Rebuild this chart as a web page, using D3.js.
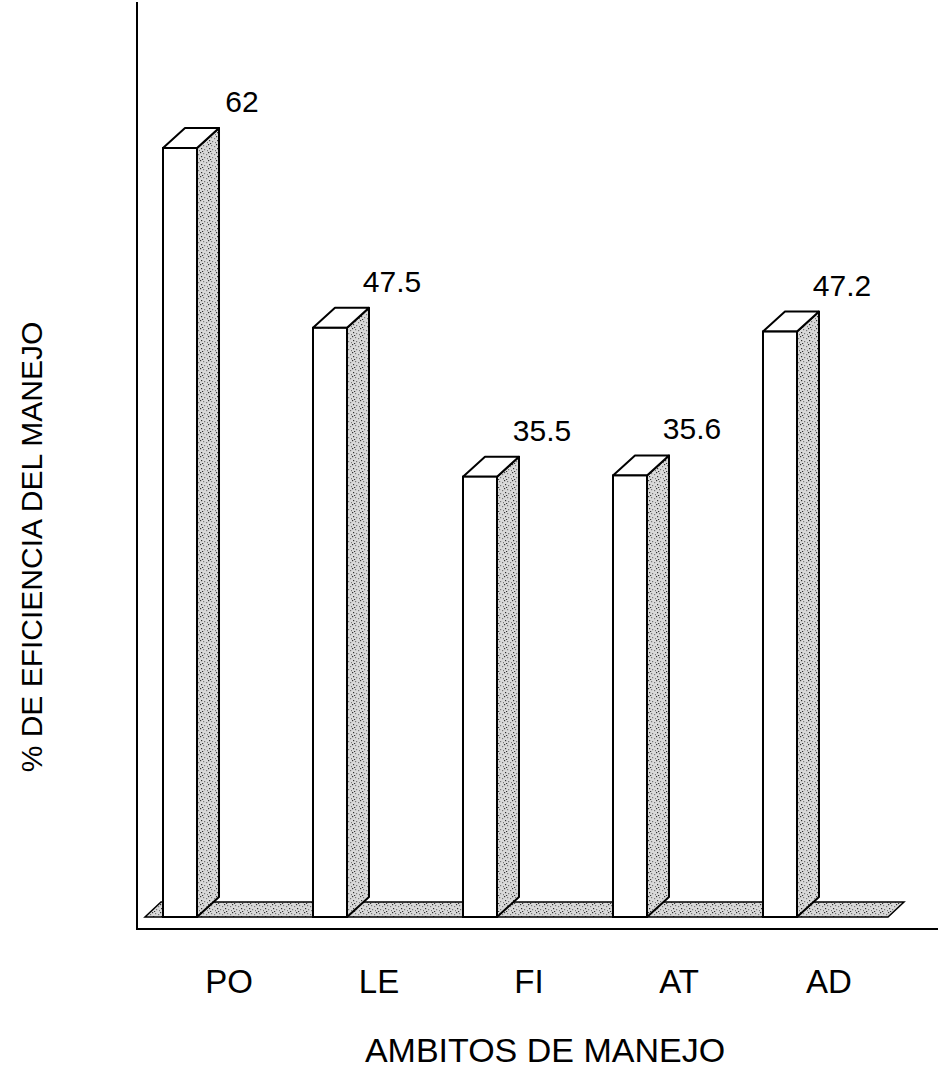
<!DOCTYPE html>
<html>
<head>
<meta charset="utf-8">
<script src="https://cdn.jsdelivr.net/npm/d3@7"></script>
<style>
  body { margin: 0; background: #fff; }
  text { font-family: "Liberation Sans", Arial, sans-serif; fill: #000; }
</style>
</head>
<body>
<svg width="938" height="1077"></svg>
<script>
var categories = ["PO", "LE", "FI", "AT", "AD"];
var values = [62, 47.5, 35.5, 35.6, 47.2];
var valueLabels = ["62", "47.5", "35.5", "35.6", "47.2"];

var svg = d3.select("svg");

// 3d offsets of the columns and the floor
var dx = 22, dy = 20;
var floorDx = 16, floorDy = 15;

var x = d3.scaleBand()
    .domain(categories)
    .range([163, 797])
    .paddingInner(0.7733)
    .paddingOuter(0);

var y = d3.scaleLinear()
    .domain([0, 62])
    .range([917, 148]);

// stipple texture for the shaded faces
var defs = svg.append("defs");
var pat = defs.append("pattern")
    .attr("id", "stipple")
    .attr("patternUnits", "userSpaceOnUse")
    .attr("width", 8)
    .attr("height", 8);
pat.append("rect").attr("width", 8).attr("height", 8).attr("fill", "#d9d9d9");
[[0, 0], [3, 1], [6, 2], [1, 4], [4, 5], [7, 6], [2, 7]].forEach(function(p, i) {
    pat.append("rect")
        .attr("x", p[0]).attr("y", p[1])
        .attr("width", 1.2).attr("height", 1.2)
        .attr("fill", i % 3 ? "#777" : "#333");
});

var base = y(0);

// floor
var floorLeft = 145, floorRight = 888;
svg.append("path")
    .attr("d", "M" + floorLeft + "," + base +
        "L" + floorRight + "," + base +
        "L" + (floorRight + floorDx) + "," + (base - floorDy) +
        "L" + (floorLeft + floorDx) + "," + (base - floorDy) + "Z")
    .attr("fill", "url(#stipple)")
    .attr("stroke", "#000")
    .attr("stroke-width", 1.5);

// axes lines
svg.append("line")
    .attr("x1", 137).attr("x2", 137)
    .attr("y1", 2).attr("y2", 930)
    .attr("stroke", "#000").attr("stroke-width", 2);

svg.append("line")
    .attr("x1", 137).attr("x2", 938)
    .attr("y1", 929).attr("y2", 929)
    .attr("stroke", "#000").attr("stroke-width", 2);

// columns
var bars = svg.selectAll(".bar")
    .data(categories)
    .enter().append("g")
    .attr("class", "bar");

bars.append("path")
    .attr("d", function(d, i) {
        var x0 = x(d) + x.bandwidth(), yt = y(values[i]);
        return "M" + x0 + "," + base + "L" + x0 + "," + yt +
            "L" + (x0 + dx) + "," + (yt - dy) +
            "L" + (x0 + dx) + "," + (base - dy) + "Z";
    })
    .attr("fill", "url(#stipple)")
    .attr("stroke", "#000")
    .attr("stroke-width", 2)
    .attr("stroke-linejoin", "round");

bars.append("path")
    .attr("d", function(d, i) {
        var x0 = x(d), x1 = x(d) + x.bandwidth(), yt = y(values[i]);
        return "M" + x0 + "," + yt + "L" + x1 + "," + yt +
            "L" + (x1 + dx) + "," + (yt - dy) +
            "L" + (x0 + dx) + "," + (yt - dy) + "Z";
    })
    .attr("fill", "#fff")
    .attr("stroke", "#000")
    .attr("stroke-width", 2)
    .attr("stroke-linejoin", "round");

bars.append("rect")
    .attr("x", function(d) { return x(d); })
    .attr("y", function(d, i) { return y(values[i]); })
    .attr("width", x.bandwidth())
    .attr("height", function(d, i) { return base - y(values[i]); })
    .attr("fill", "#fff")
    .attr("stroke", "#000")
    .attr("stroke-width", 2);

// value labels
bars.append("text")
    .attr("x", function(d) { return x(d) + x.bandwidth() / 2 + 62; })
    .attr("y", function(d, i) { return y(values[i]) - dy - 16; })
    .attr("text-anchor", "middle")
    .style("font-size", "30px")
    .text(function(d, i) { return valueLabels[i]; });

// category axis
var xTicks = d3.scaleBand()
    .domain(categories)
    .range([163 + 49, 797 + 49])
    .paddingInner(0.7733);

svg.append("g")
    .attr("transform", "translate(0,962)")
    .call(d3.axisBottom(xTicks).tickSize(0).tickPadding(0))
    .call(function(g) { g.select(".domain").remove(); })
    .selectAll("text")
    .attr("dy", "0.95em")
    .style("font-family", "\"Liberation Sans\", Arial, sans-serif")
    .style("font-size", "33px")
    .attr("fill", "#000");

svg.append("text")
    .attr("x", 545)
    .attr("y", 1062)
    .attr("text-anchor", "middle")
    .style("font-size", "34px")
    .text("AMBITOS DE MANEJO");

svg.append("text")
    .attr("transform", "translate(42,547) rotate(-90)")
    .attr("text-anchor", "middle")
    .style("font-size", "30px")
    .text("% DE EFICIENCIA DEL MANEJO");
</script>
</body>
</html>
